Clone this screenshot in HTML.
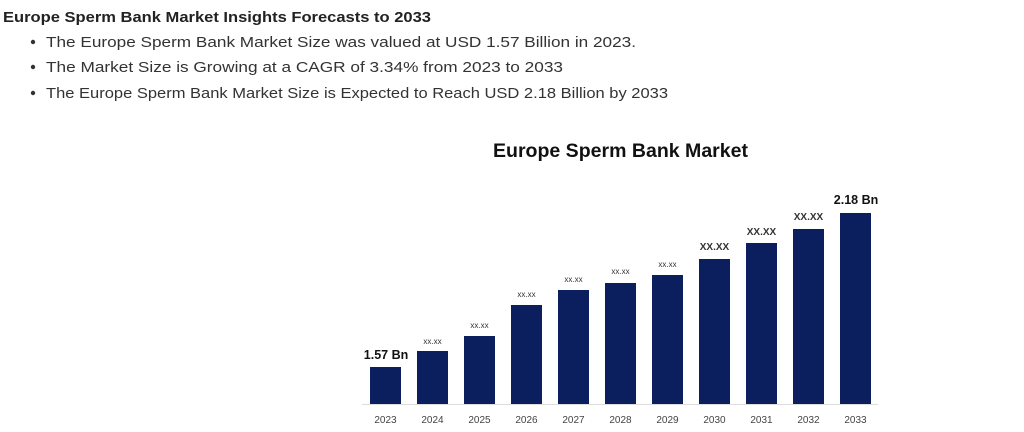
<!DOCTYPE html>
<html><head><meta charset="utf-8"><style>
html,body{margin:0;padding:0;background:#fff;width:1024px;height:432px;overflow:hidden}
</style></head><body>
<svg width="1024" height="432" viewBox="0 0 1024 432" xmlns="http://www.w3.org/2000/svg" font-family="Liberation Sans, sans-serif">
<text x="3" y="22" font-size="15" font-weight="bold" fill="#222" textLength="428" lengthAdjust="spacingAndGlyphs">Europe Sperm Bank Market Insights Forecasts to 2033</text>
<g fill="#333" font-size="15">
<circle cx="33" cy="42" r="2.2"/><text x="46" y="47" textLength="590" lengthAdjust="spacingAndGlyphs">The Europe Sperm Bank Market Size was valued at USD 1.57 Billion in 2023.</text>
<circle cx="33" cy="67" r="2.2"/><text x="46" y="72" textLength="517" lengthAdjust="spacingAndGlyphs">The Market Size is Growing at a CAGR of 3.34% from 2023 to 2033</text>
<circle cx="33" cy="93" r="2.2"/><text x="46" y="98" textLength="622" lengthAdjust="spacingAndGlyphs">The Europe Sperm Bank Market Size is Expected to Reach USD 2.18 Billion by 2033</text>
</g>
<text x="493" y="157" font-size="19" font-weight="bold" fill="#111" textLength="255" lengthAdjust="spacingAndGlyphs">Europe Sperm Bank Market</text>
<line x1="362" y1="404.5" x2="878" y2="404.5" stroke="#ddd" stroke-width="1"/>
<g fill="#0b1f5e">
<rect x="370" y="367" width="31" height="37"/>
<rect x="417" y="351" width="31" height="53"/>
<rect x="464" y="336" width="31" height="68"/>
<rect x="511" y="305" width="31" height="99"/>
<rect x="558" y="290" width="31" height="114"/>
<rect x="605" y="283" width="31" height="121"/>
<rect x="652" y="275" width="31" height="129"/>
<rect x="699" y="259" width="31" height="145"/>
<rect x="746" y="243" width="31" height="161"/>
<rect x="793" y="229" width="31" height="175"/>
<rect x="840" y="213" width="31" height="191"/>
</g>
<g font-size="8" fill="#333" text-anchor="middle">
<text x="432.5" y="344">xx.xx</text>
<text x="479.5" y="328">xx.xx</text>
<text x="526.5" y="297">xx.xx</text>
<text x="573.5" y="282">xx.xx</text>
<text x="620.5" y="274">xx.xx</text>
<text x="667.5" y="267">xx.xx</text>
</g>
<g font-size="10" font-weight="bold" fill="#333" text-anchor="middle">
<text x="714.5" y="250">XX.XX</text>
<text x="761.5" y="235">XX.XX</text>
<text x="808.5" y="220">XX.XX</text>
</g>
<g font-size="12.5" font-weight="bold" fill="#111" text-anchor="middle">
<text x="386" y="359">1.57 Bn</text>
<text x="856" y="204">2.18 Bn</text>
</g>
<g font-size="10" fill="#444" text-anchor="middle">
<text x="385.5" y="423">2023</text>
<text x="432.5" y="423">2024</text>
<text x="479.5" y="423">2025</text>
<text x="526.5" y="423">2026</text>
<text x="573.5" y="423">2027</text>
<text x="620.5" y="423">2028</text>
<text x="667.5" y="423">2029</text>
<text x="714.5" y="423">2030</text>
<text x="761.5" y="423">2031</text>
<text x="808.5" y="423">2032</text>
<text x="855.5" y="423">2033</text>
</g>
</svg>
</body></html>
